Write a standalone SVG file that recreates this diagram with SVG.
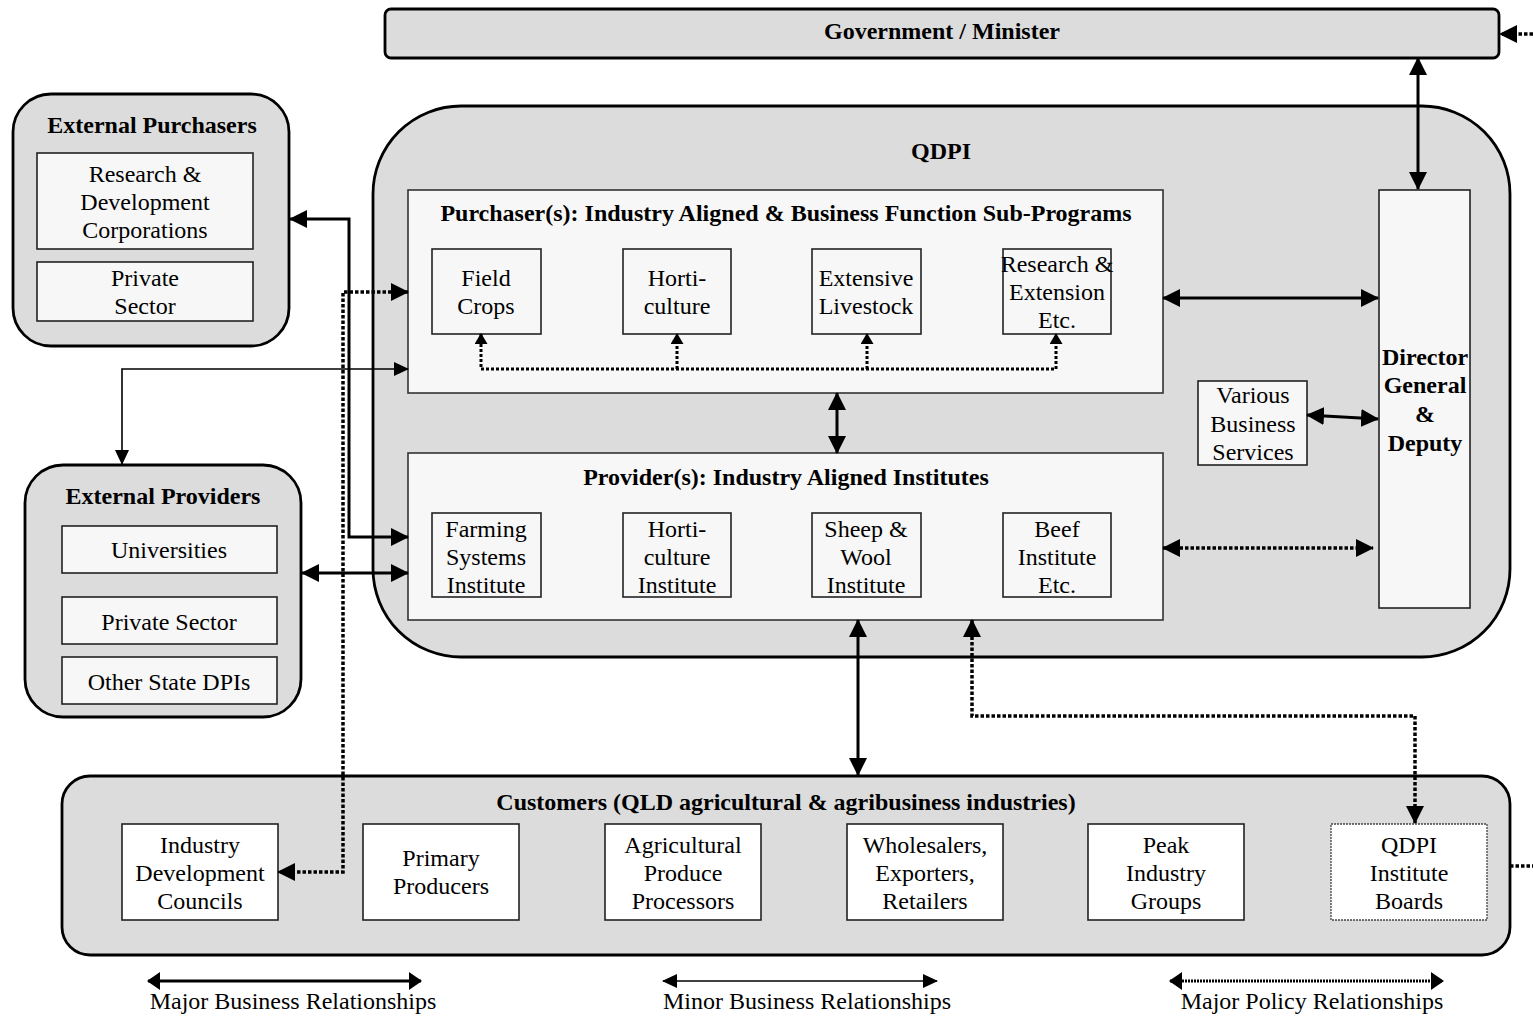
<svg xmlns="http://www.w3.org/2000/svg" width="1533" height="1016" viewBox="0 0 1533 1016">
<defs>
<style>
.t{font-family:"Liberation Serif","Times New Roman",serif;font-size:24px;text-anchor:middle;fill:#000}
.b{font-weight:bold;font-size:24px}
.grp{fill:#dcdcdc;stroke:#000;stroke-width:2.8}
.pnl{fill:#f7f7f7;stroke:#333;stroke-width:1.6}
.box{fill:#f7f7f7;stroke:#222;stroke-width:1.6}
.cbox{fill:#fff;stroke:#222;stroke-width:1.6}
.maj{fill:none;stroke:#000;stroke-width:3}
.min{fill:none;stroke:#000;stroke-width:1.6}
.dot{fill:none;stroke:#000;stroke-width:3.5;stroke-dasharray:3.5 2}
.dots{fill:none;stroke:#000;stroke-width:3;stroke-dasharray:3 2}
</style>
<marker id="big" viewBox="0 0 18 18" markerWidth="18" markerHeight="18" refX="17" refY="9" orient="auto-start-reverse" markerUnits="userSpaceOnUse"><path d="M0,0 L18,9 L0,18 z" fill="#000"/></marker>
<marker id="med" viewBox="0 0 15 14" markerWidth="15" markerHeight="14" refX="14" refY="7" orient="auto-start-reverse" markerUnits="userSpaceOnUse"><path d="M0,0 L15,7 L0,14 z" fill="#000"/></marker>
<marker id="sm" viewBox="0 0 11 13" markerWidth="11" markerHeight="13" refX="10" refY="6.5" orient="auto-start-reverse" markerUnits="userSpaceOnUse"><path d="M0,0 L11,6.5 L0,13 z" fill="#000"/></marker>
<marker id="leg" viewBox="0 0 13 18" markerWidth="13" markerHeight="18" refX="12" refY="9" orient="auto-start-reverse" markerUnits="userSpaceOnUse"><path d="M0,0 L13,9 L0,18 z" fill="#000"/></marker>
</defs>
<rect width="1533" height="1016" fill="#fff"/>

<g id="government">
<rect x="385" y="9" width="1114" height="49" rx="6" class="grp"/>
<text x="942" y="39" class="t b">Government / Minister</text>
</g>

<g id="qdpi">
<rect x="373" y="106" width="1137" height="551" rx="88" class="grp"/>
<text x="941" y="159" class="t b">QDPI</text>
</g>

<g id="purchaser">
<rect x="408" y="190" width="755" height="203" class="pnl"/>
<text x="786" y="221" class="t b">Purchaser(s): Industry Aligned &amp; Business Function Sub-Programs</text>
</g>
<g id="field-crops"><rect x="432" y="249" width="109" height="85" class="box"/><text x="486" y="286" class="t">Field</text><text x="486" y="314" class="t">Crops</text></g>
<g id="p-horticulture"><rect x="623" y="249" width="108" height="85" class="box"/><text x="677" y="286" class="t">Horti-</text><text x="677" y="314" class="t">culture</text></g>
<g id="extensive-livestock"><rect x="812" y="249" width="109" height="85" class="box"/><text x="866" y="286" class="t">Extensive</text><text x="866" y="314" class="t">Livestock</text></g>
<g id="research-extension"><rect x="1003" y="249" width="108" height="85" class="box"/><text x="1057" y="272" class="t">Research &amp;</text><text x="1057" y="300" class="t">Extension</text><text x="1057" y="328" class="t">Etc.</text></g>

<g id="provider">
<rect x="408" y="453" width="755" height="167" class="pnl"/>
<text x="786" y="485" class="t b">Provider(s): Industry Aligned Institutes</text>
</g>
<g id="farming-systems"><rect x="432" y="513" width="109" height="84" class="box"/><text x="486" y="537" class="t">Farming</text><text x="486" y="565" class="t">Systems</text><text x="486" y="593" class="t">Institute</text></g>
<g id="horticulture-institute"><rect x="623" y="513" width="108" height="84" class="box"/><text x="677" y="537" class="t">Horti-</text><text x="677" y="565" class="t">culture</text><text x="677" y="593" class="t">Institute</text></g>
<g id="sheep-wool"><rect x="812" y="513" width="109" height="84" class="box"/><text x="866" y="537" class="t">Sheep &amp;</text><text x="866" y="565" class="t">Wool</text><text x="866" y="593" class="t">Institute</text></g>
<g id="beef-institute"><rect x="1003" y="513" width="108" height="84" class="box"/><text x="1057" y="537" class="t">Beef</text><text x="1057" y="565" class="t">Institute</text><text x="1057" y="593" class="t">Etc.</text></g>

<g id="director-general"><rect x="1379" y="190" width="91" height="418" class="box"/><text x="1425" y="365" class="t b">Director</text><text x="1425" y="393" class="t b">General</text><text x="1425" y="422" class="t b">&amp;</text><text x="1425" y="451" class="t b">Deputy</text></g>
<g id="business-services"><rect x="1198" y="381" width="109" height="84" class="box"/><text x="1253" y="403" class="t">Various</text><text x="1253" y="432" class="t">Business</text><text x="1253" y="460" class="t">Services</text></g>

<g id="external-purchasers">
<rect x="13" y="94" width="276" height="252" rx="38" class="grp"/>
<text x="152" y="133" class="t b">External Purchasers</text>
<rect x="37" y="153" width="216" height="96" class="box"/>
<text x="145" y="182" class="t">Research &amp;</text><text x="145" y="210" class="t">Development</text><text x="145" y="238" class="t">Corporations</text>
<rect x="37" y="262" width="216" height="59" class="box"/>
<text x="145" y="286" class="t">Private</text><text x="145" y="314" class="t">Sector</text>
</g>

<g id="external-providers">
<rect x="25" y="465" width="276" height="252" rx="38" class="grp"/>
<text x="163" y="504" class="t b">External Providers</text>
<rect x="62" y="526" width="215" height="47" class="box"/><text x="169" y="558" class="t">Universities</text>
<rect x="62" y="597" width="215" height="47" class="box"/><text x="169" y="630" class="t">Private Sector</text>
<rect x="62" y="657" width="215" height="47" class="box"/><text x="169" y="690" class="t">Other State DPIs</text>
</g>

<g id="customers">
<rect x="62" y="776" width="1448" height="179" rx="28" class="grp"/>
<text x="786" y="810" class="t b">Customers (QLD agricultural &amp; agribusiness industries)</text>
</g>
<g id="idc"><rect x="122" y="824" width="156" height="96" class="cbox"/><text x="200" y="853" class="t">Industry</text><text x="200" y="881" class="t">Development</text><text x="200" y="909" class="t">Councils</text></g>
<g id="primary-producers"><rect x="363" y="824" width="156" height="96" class="cbox"/><text x="441" y="866" class="t">Primary</text><text x="441" y="894" class="t">Producers</text></g>
<g id="processors"><rect x="605" y="824" width="156" height="96" class="cbox"/><text x="683" y="853" class="t">Agricultural</text><text x="683" y="881" class="t">Produce</text><text x="683" y="909" class="t">Processors</text></g>
<g id="wholesalers"><rect x="847" y="824" width="156" height="96" class="cbox"/><text x="925" y="853" class="t">Wholesalers,</text><text x="925" y="881" class="t">Exporters,</text><text x="925" y="909" class="t">Retailers</text></g>
<g id="peak-industry"><rect x="1088" y="824" width="156" height="96" class="cbox"/><text x="1166" y="853" class="t">Peak</text><text x="1166" y="881" class="t">Industry</text><text x="1166" y="909" class="t">Groups</text></g>
<g id="institute-boards"><rect x="1331" y="824" width="156" height="96" fill="#fff" stroke="#444" stroke-width="1.3" stroke-dasharray="2 1"/><text x="1409" y="853" class="t">QDPI</text><text x="1409" y="881" class="t">Institute</text><text x="1409" y="909" class="t">Boards</text></g>

<g id="connectors">
<path d="M1533,34 L1500,34" class="dot" marker-end="url(#big)"/>
<path d="M1418,58 L1418,189" class="maj" marker-start="url(#big)" marker-end="url(#big)"/>
<path d="M1163,298 L1378,298" class="maj" marker-start="url(#big)" marker-end="url(#big)"/>
<path d="M1307,415 L1378,419" class="maj" marker-start="url(#big)" marker-end="url(#big)"/>
<path d="M1163,548 L1373,548" class="dot" marker-start="url(#big)" marker-end="url(#big)"/>
<path d="M837,393 L837,453" class="maj" marker-start="url(#big)" marker-end="url(#big)"/>
<path d="M481,334 L481,369 L1056,369 L1056,334" class="dots" marker-start="url(#sm)" marker-end="url(#sm)"/>
<path d="M677,369 L677,334" class="dots" marker-end="url(#sm)"/>
<path d="M867,369 L867,334" class="dots" marker-end="url(#sm)"/>
<path d="M290,219 L349,219 L349,537 L408,537" class="maj" marker-start="url(#big)" marker-end="url(#big)"/>
<path d="M408,292 L343,292 L343,872 L278,872" class="dot" marker-start="url(#big)" marker-end="url(#big)"/>
<path d="M408,369 L122,369 L122,464" class="min" marker-start="url(#med)" marker-end="url(#med)"/>
<path d="M302,573 L408,573" class="maj" marker-start="url(#big)" marker-end="url(#big)"/>
<path d="M858,620 L858,775" class="maj" marker-start="url(#big)" marker-end="url(#big)"/>
<path d="M972,620 L972,716 L1415,716 L1415,823" class="dot" marker-start="url(#big)" marker-end="url(#big)"/>
<path d="M1510,866 L1533,866" class="dot"/>
</g>

<g id="legend">
<path d="M148,981 L421,981" class="maj" marker-start="url(#leg)" marker-end="url(#leg)"/>
<text x="293" y="1009" class="t">Major Business Relationships</text>
<path d="M663,981 L937,981" class="min" marker-start="url(#med)" marker-end="url(#med)"/>
<text x="807" y="1009" class="t">Minor Business Relationships</text>
<path d="M1170,981 L1443,981" fill="none" stroke="#000" stroke-width="3" stroke-dasharray="2 1" marker-start="url(#leg)" marker-end="url(#leg)"/>
<text x="1312" y="1009" class="t">Major Policy Relationships</text>
</g>
</svg>
